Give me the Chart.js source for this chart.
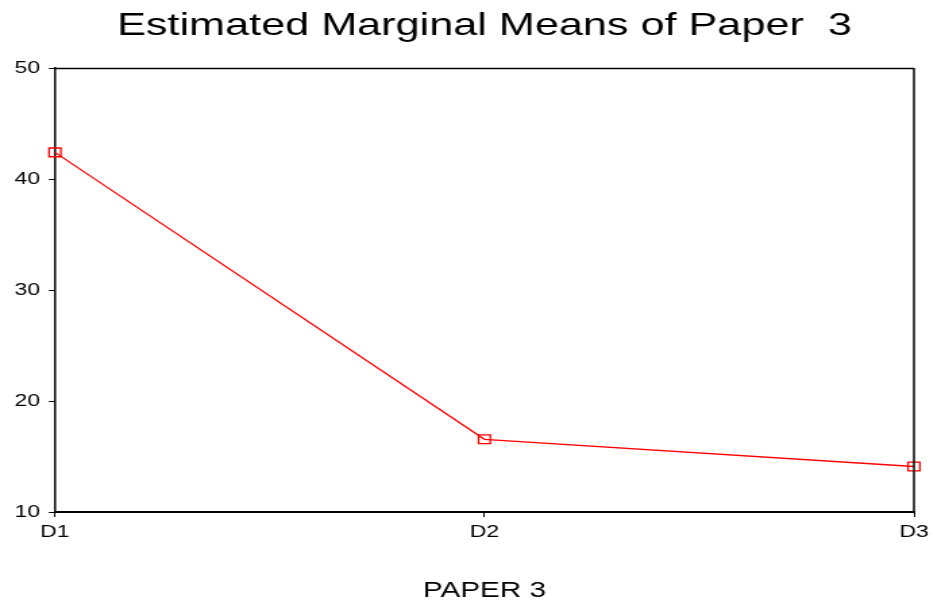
<!DOCTYPE html>
<html>
<head>
<meta charset="utf-8">
<script src="https://cdn.jsdelivr.net/npm/chart.js@4.4.1/dist/chart.umd.min.js"></script>
<style>
  html, body { margin: 0; padding: 0; background: #fff; overflow: hidden; }
  #wrap { position: absolute; left: 0; top: 0; width: 691px; height: 605px;
          transform: scaleX(1.35); transform-origin: 0 0; }
</style>
</head>
<body>
<div id="wrap"><canvas id="c"></canvas></div>
<script>
const categories = ["D1", "D2", "D3"];
const means = [42.4, 16.55, 14.1];
const yTicks = [10, 20, 30, 40, 50];
const titleText = "Estimated Marginal Means of Paper  3";
const xTitle = "PAPER 3";

const FONT = "'Liberation Sans', Arial, Helvetica, sans-serif";

const framePlugin = {
  id: 'frame',
  afterDraw(chart) {
    const {ctx, chartArea: a} = chart;
    ctx.save();
    ctx.strokeStyle = '#000';
    ctx.lineWidth = 1.3;
    ctx.beginPath();
    ctx.moveTo(a.left, a.top + 0.5);
    ctx.lineTo(a.right, a.top + 0.5);
    ctx.stroke();
    ctx.lineWidth = 1.5;
    ctx.beginPath();
    ctx.moveTo(a.right, a.top);
    ctx.lineTo(a.right, a.bottom);
    ctx.stroke();
    ctx.restore();
  }
};

new Chart(document.getElementById('c'), {
  type: 'line',
  data: {
    labels: categories,
    datasets: [{
      data: means,
      borderColor: '#ff0000',
      borderWidth: 1.3,
      pointStyle: 'rect',
      pointRadius: 6.2,
      pointBorderWidth: 1.3,
      pointBorderColor: '#ff0000',
      pointBackgroundColor: 'rgba(255,255,255,0)',
      tension: 0,
      clip: false
    }]
  },
  options: {
    responsive: true,
    maintainAspectRatio: false,
    animation: false,
    layout: { autoPadding: false, padding: { left: 0, right: 14, top: 0, bottom: 0 } },
    plugins: {
      legend: { display: false },
      tooltip: { enabled: false },
      title: {
        display: true,
        text: titleText,
        fullSize: false,
        color: '#000',
        font: { family: FONT, size: 32, weight: 'normal', lineHeight: 1.2 },
        padding: { top: 7, bottom: 22.6 }
      }
    },
    scales: {
      x: {
        type: 'category',
        offset: false,
        grid: { drawOnChartArea: false, drawTicks: true, tickLength: 5, color: '#000', tickWidth: 1 },
        border: { display: true, color: '#000', width: 2 },
        ticks: { color: '#000', padding: 5, font: { family: FONT, size: 17 }, maxRotation: 0, autoSkip: false },
        title: {
          display: true, text: xTitle, color: '#000',
          font: { family: FONT, size: 22, lineHeight: 1.2 },
          padding: { top: 30, bottom: 1 }
        },
        afterFit(scale) { scale.height = 93; scale.paddingLeft = 0; scale.paddingRight = 0; }
      },
      y: {
        min: 10, max: 50,
        afterBuildTicks(scale) { scale.ticks = yTicks.map(v => ({ value: v })); },
        grid: { drawOnChartArea: false, drawTicks: true, tickLength: 4.5, color: '#000', tickWidth: 1 },
        border: { display: true, color: '#000', width: 1.5 },
        ticks: { color: '#000', padding: 6.5, font: { family: FONT, size: 17 } },
        afterFit(scale) { scale.width = 40.7; scale.paddingTop = 0; scale.paddingBottom = 0; }
      }
    }
  },
  plugins: [framePlugin]
});
</script>
</body>
</html>
